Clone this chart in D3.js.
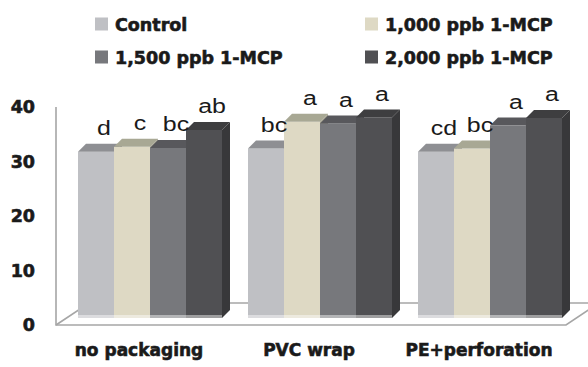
<!DOCTYPE html>
<html lang="en">
<head>
  <meta charset="UTF-8">
  <title>3d-bars</title>
  <script src="https://cdn.jsdelivr.net/npm/d3@7"></script>
  <style>
    body { margin: 0; background: #fff; }
  </style>
</head>
<body>
<script>
let width = 588;
let height = 367;

const categories = ['no packaging', 'PVC wrap', 'PE+perforation'];
const series = ['Control', '1,000 ppb 1-MCP', '1,500 ppb 1-MCP', '2,000 ppb 1-MCP'];
const control = [30.5, 31.1, 30.5];
const ppb1000 = [31.4, 36.0, 31.1];
const ppb1500 = [31.2, 35.7, 35.3];
const ppb2000 = [34.5, 36.8, 36.7];
const lettersControl = ['d', 'bc', 'cd'];
const letters1000 = ['c', 'a', 'bc'];
const letters1500 = ['bc', 'a', 'a'];
const letters2000 = ['ab', 'a', 'a'];
const yTicks = [0, 10, 20, 30, 40];

const values = [control, ppb1000, ppb1500, ppb2000];
const letters = [lettersControl, letters1000, letters1500, letters2000];
const frontColors = ['#bfc0c4', '#ded9c4', '#77787c', '#505053'];
const topColors = ['#8e8f93', '#a8a894', '#58585c', '#3e3e40'];
const sideColors = ['#8a8b8f', '#a3a08f', '#505054', '#38383a'];

let svg = d3.select('body')
  .append('svg')
  .attr('width', width)
  .attr('height', height);

let y = d3.scaleLinear().domain([0, 40]).range([325, 107]);
let x0 = d3.scaleBand().domain(categories).range([56, 566]);
let x1 = d3.scaleBand().domain(series).range([0, 144]);

// plane offsets (bars sit a bit behind the front edge of the floor)
let plane = {dx: 9, dy: -7};
let floorDepth = {dx: 33, dy: -22};
let barDepth = 8;
let lineColor = '#a6a6a6';

// floor + left wall
let fl = 56, fr = 566, fy = y(0);
let floor = svg.append('g').attr('fill', 'none').attr('stroke', lineColor).attr('stroke-width', 1.6);
floor.append('path')
  .attr('d', 'M' + fl + ',' + y(40) + 'L' + fl + ',' + fy + 'L' + fr + ',' + fy +
    'L' + (fr + floorDepth.dx) + ',' + (fy + floorDepth.dy));
floor.append('path')
  .attr('d', 'M' + fl + ',' + fy + 'L' + (fl + floorDepth.dx) + ',' + (fy + floorDepth.dy) +
    'L' + (fr + floorDepth.dx) + ',' + (fy + floorDepth.dy));

// bars
let bars = svg.append('g');
categories.forEach(function (c, ci) {
  series.forEach(function (s, si) {
    let v = values[si][ci];
    let bx = x0(c) + (x0.bandwidth() - 144) / 2 + plane.dx + x1(s);
    let bw = x1.bandwidth();
    let by = y(v) + plane.dy;
    let bb = y(0) + plane.dy;
    let g = bars.append('g');
    g.append('rect')
      .attr('x', bx).attr('y', by)
      .attr('width', bw).attr('height', bb - by)
      .attr('fill', frontColors[si]);
    g.append('rect')
      .attr('x', bx).attr('y', bb - 3)
      .attr('width', bw).attr('height', 3)
      .attr('fill', d3.interpolateRgb(frontColors[si], '#fff')(0.45));
    g.append('path')
      .attr('d', 'M' + bx + ',' + by + 'L' + (bx + barDepth) + ',' + (by - barDepth) +
        'L' + (bx + bw + barDepth) + ',' + (by - barDepth) + 'L' + (bx + bw) + ',' + by + 'Z')
      .attr('fill', topColors[si]);
    g.append('path')
      .attr('d', 'M' + (bx + bw) + ',' + by + 'L' + (bx + bw + barDepth) + ',' + (by - barDepth) +
        'L' + (bx + bw + barDepth) + ',' + (bb - barDepth) + 'L' + (bx + bw) + ',' + bb + 'Z')
      .attr('fill', sideColors[si]);
  });
});

// significance letters
categories.forEach(function (c, ci) {
  series.forEach(function (s, si) {
    let cx = x0(c) + (x0.bandwidth() - 144) / 2 + plane.dx + x1(s) + x1.bandwidth() / 2 + 8;
    let ty = y(values[si][ci]) + plane.dy - 16.5;
    svg.append('text')
      .attr('transform', 'translate(' + cx + ',' + ty + ') scale(1.28,1)')
      .attr('text-anchor', 'middle')
      .attr('font-family', 'Liberation Sans, Arial, sans-serif')
      .attr('font-size', 19.5)
      .attr('fill', '#1a1a1a')
      .text(letters[si][ci]);
  });
});

// y axis
let yAxis = d3.axisLeft(y).tickValues(yTicks).tickSize(0).tickPadding(0);
let ya = svg.append('g')
  .attr('transform', 'translate(35,0)')
  .call(yAxis);
ya.select('.domain').remove();
ya.selectAll('text')
  .attr('font-family', 'DejaVu Sans, sans-serif')
  .attr('font-weight', 'bold')
  .attr('font-size', 17.5)
  .attr('fill', '#1a1a1a')
  .attr('stroke', '#1a1a1a')
  .attr('stroke-width', 0.6);

// category labels
svg.append('g').selectAll('text')
  .data(categories)
  .join('text')
  .attr('x', function (d) { return x0(d) + x0.bandwidth() / 2 - 2; })
  .attr('y', 356)
  .attr('text-anchor', 'middle')
  .attr('font-family', 'DejaVu Sans, sans-serif')
  .attr('font-weight', 'bold')
  .attr('font-size', 17)
  .attr('fill', '#1a1a1a')
  .attr('stroke', '#1a1a1a')
  .attr('stroke-width', 0.6)
  .text(function (d) { return d; });

// legend
let legendX = [95, 365];
let legendY = [24, 57];
let legend = svg.append('g').selectAll('g')
  .data(series)
  .join('g')
  .attr('transform', function (d, i) {
    return 'translate(' + legendX[i % 2] + ',' + legendY[Math.floor(i / 2)] + ')';
  });
legend.append('rect')
  .attr('x', 0).attr('y', -6.5)
  .attr('width', 13).attr('height', 13)
  .attr('fill', function (d, i) { return frontColors[i]; });
legend.append('text')
  .attr('x', 20).attr('y', 6.5)
  .attr('font-family', 'DejaVu Sans, sans-serif')
  .attr('font-weight', 'bold')
  .attr('font-size', 17.5)
  .attr('fill', '#1a1a1a')
  .attr('stroke', '#1a1a1a')
  .attr('stroke-width', 0.6)
  .text(function (d) { return d; });
</script>
</body>
</html>
